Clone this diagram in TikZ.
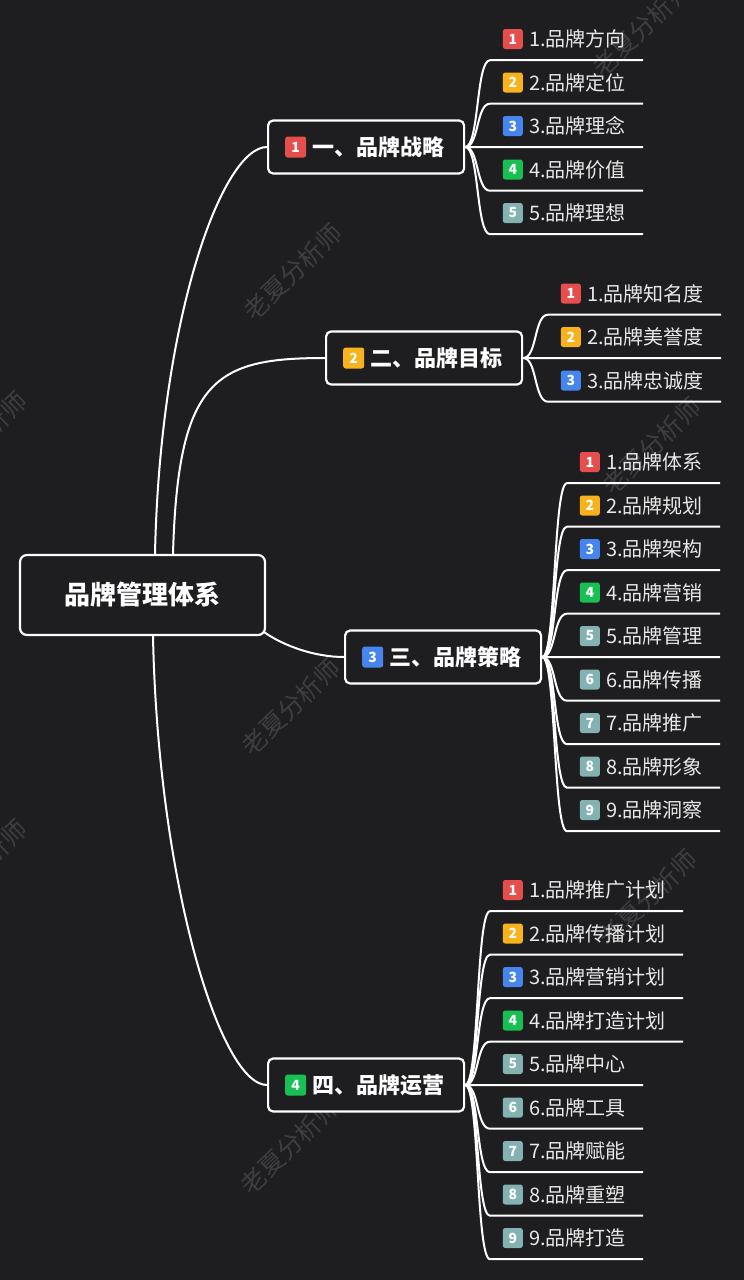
\documentclass[tikz,border=0pt]{standalone}
\usepackage{xcolor}
\usepackage{fontspec}
\setmainfont{Noto Sans CJK SC}
\usepackage{tikz}
\usetikzlibrary{calc}
\usetikzlibrary{positioning}
\definecolor{bgc}{RGB}{30,30,32}
\definecolor{txt}{RGB}{232,232,232}
\definecolor{wmc}{RGB}{62,62,64}
\definecolor{cR}{RGB}{230,78,78}
\definecolor{cO}{RGB}{248,178,28}
\definecolor{cB}{RGB}{70,132,238}
\definecolor{cG}{RGB}{24,192,84}
\definecolor{cT}{RGB}{132,178,178}
\tikzstyle{link} = [draw=white, line width=2pt]
\tikzstyle{rootbox} = [draw=white, line width=2.2pt, rounded corners=7pt, fill=bgc, minimum width=245pt, minimum height=80pt, text=white, font=\bfseries\fontsize{26}{30}\selectfont]
\tikzstyle{branch} = [draw=white, line width=2.2pt, rounded corners=5pt, fill=bgc, anchor=west, minimum height=53pt, inner xsep=20pt, text=white, font=\bfseries\fontsize{22}{26}\selectfont]
\tikzstyle{leaf} = [anchor=west, inner xsep=0pt, minimum height=42pt, text=txt, font=\fontsize{20}{24}\selectfont]
\tikzstyle{ico} = [rounded corners=2.5pt, minimum size=20pt, inner sep=0pt, text=white, font=\bfseries\fontsize{14}{14}\selectfont]
\tikzstyle{wmark} = [text=wmc, rotate=44, font=\fontsize{25}{25}\selectfont]

\begin{document}
\begin{tikzpicture}[x=1pt, y=-1pt]
\useasboundingbox (0,0) rectangle (744,1280);
\fill [bgc] (0,0) rectangle (744,1280);
\clip (0,0) rectangle (744,1280);
% watermarks
\node [wmark] (W1) at (293,272) {老夏分析师};
\node [wmark] (W2) at (291,707) {老夏分析师};
\node [wmark] (W3) at (290,1146) {老夏分析师};
\node [wmark] (W4) at (642,28) {老夏分析师};
\node [wmark] (W5) at (652,446) {老夏分析师};
\node [wmark] (W6) at (648,898) {老夏分析师};
\node [wmark] (W7) at (-22,440) {老夏分析师};
\node [wmark] (W8) at (-22,868) {老夏分析师};

\node [rootbox] (R) at (142.5,595) {品牌管理体系};

\node [branch] (B1) at (267,147) {\hspace*{24pt}一、品牌战略};
\node [ico, fill=cR, minimum size=21pt, right=18pt of B1.west] (I1) {1};
\node [branch] (B2) at (325,358) {\hspace*{24pt}二、品牌目标};
\node [ico, fill=cO, minimum size=21pt, right=18pt of B2.west] (I2) {2};
\node [branch] (B3) at (344,657) {\hspace*{24pt}三、品牌策略};
\node [ico, fill=cB, minimum size=21pt, right=18pt of B3.west] (I3) {3};
\node [branch] (B4) at (267,1085) {\hspace*{24pt}四、品牌运营};
\node [ico, fill=cG, minimum size=21pt, right=18pt of B4.west] (I4) {4};

\draw [link] ([xshift=12.5]R.north) .. controls +(5,-235) and +(-45,0) .. (B1.west);
\draw [link] ([xshift=30.5]R.north) .. controls +(5,-175) and +(-110,0) .. (B2.west);
\draw [link] ([xshift=-2,yshift=4]R.south east) .. controls +(20,14) and +(-29,0) .. (B3.west);
\draw [link] ([xshift=10.5]R.south) .. controls +(5,245) and +(-47,0) .. (B4.west);

% branch 1
\node [leaf] (L11) at (529,39) {1.品牌方向};
\node [ico, fill=cR, left=6pt of L11] (I11) {1};
\node [leaf] (L12) at (529,82.5) {2.品牌定位};
\node [ico, fill=cO, left=6pt of L12] (I12) {2};
\node [leaf] (L13) at (529,126) {3.品牌理念};
\node [ico, fill=cB, left=6pt of L13] (I13) {3};
\node [leaf] (L14) at (529,169.5) {4.品牌价值};
\node [ico, fill=cG, left=6pt of L14] (I14) {4};
\node [leaf] (L15) at (529,213) {5.品牌理想};
\node [ico, fill=cT, left=6pt of L15] (I15) {5};
\draw [link] (B1.east) .. controls +(14,0) and +(-14,0) .. ([xshift=-39]L11.south west) -- ([xshift=17]L11.south east);
\draw [link] (B1.east) .. controls +(14,0) and +(-14,0) .. ([xshift=-39]L12.south west) -- ([xshift=17]L12.south east);
\draw [link] (B1.east) -- ([xshift=17]L13.south east);
\draw [link] (B1.east) .. controls +(14,0) and +(-14,0) .. ([xshift=-39]L14.south west) -- ([xshift=17]L14.south east);
\draw [link] (B1.east) .. controls +(14,0) and +(-14,0) .. ([xshift=-39]L15.south west) -- ([xshift=17]L15.south east);

% branch 2
\node [leaf] (L21) at (587,293.5) {1.品牌知名度};
\node [ico, fill=cR, left=6pt of L21] (I21) {1};
\node [leaf] (L22) at (587,337) {2.品牌美誉度};
\node [ico, fill=cO, left=6pt of L22] (I22) {2};
\node [leaf] (L23) at (587,380.5) {3.品牌忠诚度};
\node [ico, fill=cB, left=6pt of L23] (I23) {3};
\draw [link] (B2.east) .. controls +(14,0) and +(-14,0) .. ([xshift=-39]L21.south west) -- ([xshift=17]L21.south east);
\draw [link] (B2.east) -- ([xshift=17]L22.south east);
\draw [link] (B2.east) .. controls +(14,0) and +(-14,0) .. ([xshift=-39]L23.south west) -- ([xshift=17]L23.south east);

% branch 3
\node [leaf] (L31) at (606,462) {1.品牌体系};
\node [ico, fill=cR, left=6pt of L31] (I31) {1};
\node [leaf] (L32) at (606,505.5) {2.品牌规划};
\node [ico, fill=cO, left=6pt of L32] (I32) {2};
\node [leaf] (L33) at (606,549) {3.品牌架构};
\node [ico, fill=cB, left=6pt of L33] (I33) {3};
\node [leaf] (L34) at (606,592.5) {4.品牌营销};
\node [ico, fill=cG, left=6pt of L34] (I34) {4};
\node [leaf] (L35) at (606,636) {5.品牌管理};
\node [ico, fill=cT, left=6pt of L35] (I35) {5};
\node [leaf] (L36) at (606,679.5) {6.品牌传播};
\node [ico, fill=cT, left=6pt of L36] (I36) {6};
\node [leaf] (L37) at (606,723) {7.品牌推广};
\node [ico, fill=cT, left=6pt of L37] (I37) {7};
\node [leaf] (L38) at (606,766.5) {8.品牌形象};
\node [ico, fill=cT, left=6pt of L38] (I38) {8};
\node [leaf] (L39) at (606,810) {9.品牌洞察};
\node [ico, fill=cT, left=6pt of L39] (I39) {9};
\draw [link] (B3.east) .. controls +(14,0) and +(-14,0) .. ([xshift=-39]L31.south west) -- ([xshift=17]L31.south east);
\draw [link] (B3.east) .. controls +(14,0) and +(-14,0) .. ([xshift=-39]L32.south west) -- ([xshift=17]L32.south east);
\draw [link] (B3.east) .. controls +(14,0) and +(-14,0) .. ([xshift=-39]L33.south west) -- ([xshift=17]L33.south east);
\draw [link] (B3.east) .. controls +(14,0) and +(-14,0) .. ([xshift=-39]L34.south west) -- ([xshift=17]L34.south east);
\draw [link] (B3.east) -- ([xshift=17]L35.south east);
\draw [link] (B3.east) .. controls +(14,0) and +(-14,0) .. ([xshift=-39]L36.south west) -- ([xshift=17]L36.south east);
\draw [link] (B3.east) .. controls +(14,0) and +(-14,0) .. ([xshift=-39]L37.south west) -- ([xshift=17]L37.south east);
\draw [link] (B3.east) .. controls +(14,0) and +(-14,0) .. ([xshift=-39]L38.south west) -- ([xshift=17]L38.south east);
\draw [link] (B3.east) .. controls +(14,0) and +(-14,0) .. ([xshift=-39]L39.south west) -- ([xshift=17]L39.south east);

% branch 4
\node [leaf] (L41) at (529,890) {1.品牌推广计划};
\node [ico, fill=cR, left=6pt of L41] (I41) {1};
\node [leaf] (L42) at (529,933.5) {2.品牌传播计划};
\node [ico, fill=cO, left=6pt of L42] (I42) {2};
\node [leaf] (L43) at (529,977) {3.品牌营销计划};
\node [ico, fill=cB, left=6pt of L43] (I43) {3};
\node [leaf] (L44) at (529,1020.5) {4.品牌打造计划};
\node [ico, fill=cG, left=6pt of L44] (I44) {4};
\node [leaf] (L45) at (529,1064) {5.品牌中心};
\node [ico, fill=cT, left=6pt of L45] (I45) {5};
\node [leaf] (L46) at (529,1107.5) {6.品牌工具};
\node [ico, fill=cT, left=6pt of L46] (I46) {6};
\node [leaf] (L47) at (529,1151) {7.品牌赋能};
\node [ico, fill=cT, left=6pt of L47] (I47) {7};
\node [leaf] (L48) at (529,1194.5) {8.品牌重塑};
\node [ico, fill=cT, left=6pt of L48] (I48) {8};
\node [leaf] (L49) at (529,1238) {9.品牌打造};
\node [ico, fill=cT, left=6pt of L49] (I49) {9};
\draw [link] (B4.east) .. controls +(14,0) and +(-14,0) .. ([xshift=-39]L41.south west) -- ([xshift=17]L41.south east);
\draw [link] (B4.east) .. controls +(14,0) and +(-14,0) .. ([xshift=-39]L42.south west) -- ([xshift=17]L42.south east);
\draw [link] (B4.east) .. controls +(14,0) and +(-14,0) .. ([xshift=-39]L43.south west) -- ([xshift=17]L43.south east);
\draw [link] (B4.east) .. controls +(14,0) and +(-14,0) .. ([xshift=-39]L44.south west) -- ([xshift=17]L44.south east);
\draw [link] (B4.east) -- ([xshift=17]L45.south east);
\draw [link] (B4.east) .. controls +(14,0) and +(-14,0) .. ([xshift=-39]L46.south west) -- ([xshift=17]L46.south east);
\draw [link] (B4.east) .. controls +(14,0) and +(-14,0) .. ([xshift=-39]L47.south west) -- ([xshift=17]L47.south east);
\draw [link] (B4.east) .. controls +(14,0) and +(-14,0) .. ([xshift=-39]L48.south west) -- ([xshift=17]L48.south east);
\draw [link] (B4.east) .. controls +(14,0) and +(-14,0) .. ([xshift=-39]L49.south west) -- ([xshift=17]L49.south east);
\end{tikzpicture}
\end{document}
